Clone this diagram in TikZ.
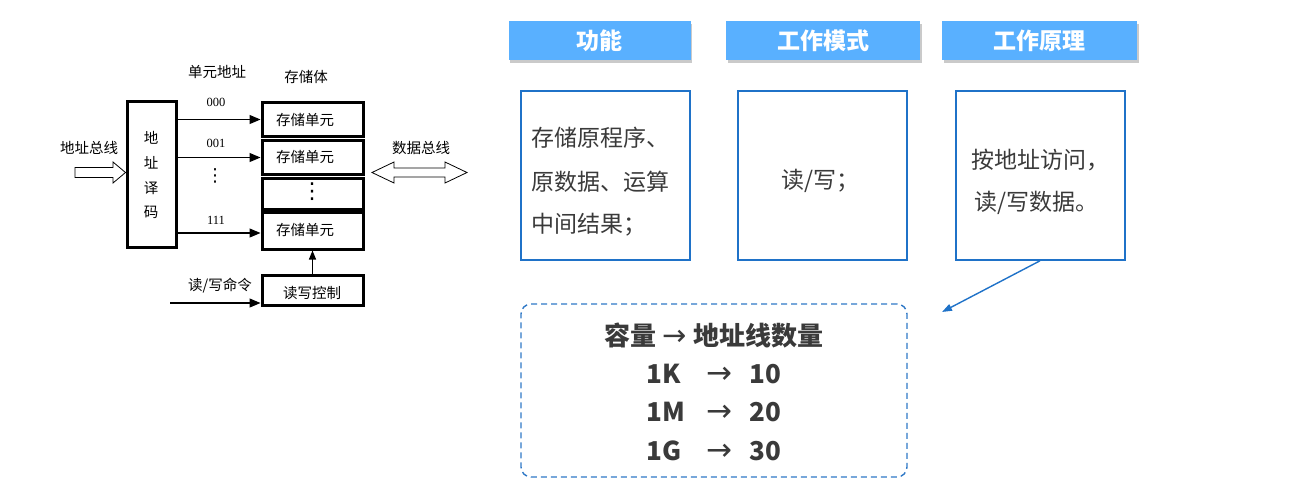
\documentclass[tikz,border=0pt]{standalone}
\usepackage{fontspec}
\setmainfont{Noto Sans CJK SC}
\newfontfamily\serifnum{Liberation Serif}
\newfontfamily\dejavu{DejaVu Sans}
\usetikzlibrary{arrows.meta,shadows}
\definecolor{hdrblue}{HTML}{59B0FF}
\definecolor{bordblue}{HTML}{1F72C8}
\definecolor{dashblue}{HTML}{2E78C6}
\definecolor{txtgray}{HTML}{3A3A3A}
\tikzset{
  thickbox/.style={draw=black, line width=3pt, inner sep=0pt},
  lbl/.style={font=\fontsize{14.5}{16}\selectfont, inner sep=0pt},
  dotlbl/.style={font=\dejavu\fontsize{18}{18}\selectfont, inner sep=0pt},
  numlbl/.style={font=\serifnum\fontsize{12.5}{14}\selectfont, inner sep=0pt},
  thinarrow/.style={line width=1.2pt, -{Triangle[length=11pt,width=9pt]}},
  hollow/.style={draw=black, line width=0.8pt, fill=white},
  header/.style={fill=hdrblue, draw=none, text=white, minimum width=182pt, minimum height=39pt, inner sep=0pt,
     font=\bfseries\fontsize{23}{26}\selectfont,
     drop shadow={shadow xshift=1.5pt, shadow yshift=-3pt, opacity=0.35, fill=black!60}},
  contentbox/.style={draw=bordblue, line width=1.6pt, minimum width=169pt, minimum height=169pt, inner sep=0pt},
  ctext/.style={text=txtgray, font=\fontsize{23}{44}\selectfont, inner sep=0pt},
  btext/.style={text=txtgray, font=\bfseries\fontsize{26}{28}\selectfont, inner sep=0pt},
  arrtext/.style={text=txtgray, font=\dejavu\fontsize{31}{31}\selectfont, inner sep=0pt},
}
\begin{document}
\begin{tikzpicture}[x=1pt,y=-1pt]
\useasboundingbox (0,0) rectangle (1309,483);
% ---------------- left diagram ----------------
\node[thickbox, minimum width=49pt, minimum height=146pt] (dec) at (151.5,174) {};
\node[lbl] (d1) at (151,138) {地};
\node[lbl] (d2) at (151,163) {址};
\node[lbl] (d3) at (151,188) {译};
\node[lbl] (d4) at (151,212) {码};

\node[thickbox, minimum width=101pt, minimum height=34pt] (c1) at (312.5,119.5) {};
\node[thickbox, minimum width=101pt, minimum height=34pt] (c2) at (312.5,157.5) {};
\node[thickbox, minimum width=101pt, minimum height=31pt] (c3) at (312.5,193.5) {};
\node[thickbox, minimum width=101pt, minimum height=37pt] (c4) at (312.5,230.5) {};
\node[lbl, anchor=west] (t1) at (276,120) {存储单元};
\node[lbl, anchor=west] (t2) at (276,157) {存储单元};
\node[lbl, anchor=west] (t4) at (276,230) {存储单元};
\node[dotlbl, font=\dejavu\fontsize{22}{22}\selectfont] (cdots) at (312,192) {⋮};

\node[thickbox, minimum width=101pt, minimum height=30pt] (rw) at (312.5,290) {};
\node[lbl] (rwt) at (312,293) {读写控制};

\node[lbl] (unitaddr) at (217,72) {单元地址};
\node[lbl] (storebody) at (306,77) {存储体};
\node[lbl] (addrbus) at (89,148) {地址总线};
\node[lbl] (databus) at (421,148) {数据总线};
\node[lbl] (rwcmd) at (220,286) {读/写命令};

\node[numlbl] (n0) at (216,102) {000};
\node[numlbl] (n1) at (216,143) {001};
\node[numlbl] (n7) at (216,220) {111};
\node[dotlbl] (ndots) at (215,176) {⋮};

\draw[thinarrow] (dec.east |- c1) -- (c1.west);
\draw[thinarrow] (dec.east |- c2) -- (c2.west);
\coordinate (a7) at (176,233);
\draw[thinarrow] (a7) -- (a7 -| c4.west);
\coordinate (cmdstart) at (170,303);
\draw[thinarrow] (cmdstart) -- (cmdstart -| rw.west);
\draw[line width=1.2pt, -{Triangle[length=9pt,width=7pt]}] (rw.north) -- (c4.south);

% hollow arrows
\draw[hollow] (75,167.5) -- (113,167.5) -- (113,162) -- (dec.west |- 0,172.5) -- (113,183) -- (113,177.5) -- (75,177.5) -- cycle;
\draw[hollow] (372,172.5) -- (394,162) -- (394,168) -- (445,168) -- (445,162) -- (467,172.5) -- (445,183) -- (445,177) -- (394,177) -- (394,183) -- cycle;

% ---------------- right side ----------------
\node[header] (h1) at (599.5,40.5) {功能};
\node[header, minimum width=194pt] (h2) at (823,40.5) {工作模式};
\node[header, minimum width=195pt] (h3) at (1039.5,40.5) {工作原理};

\node[contentbox] (b1) at (605.5,175.5) {};
\node[contentbox] (b2) at (822.5,175.5) {};
\node[contentbox] (b3) at (1040.5,175.5) {};

\node[ctext, anchor=west] (b1l1) at (531,138) {存储原程序、};
\node[ctext, anchor=west] (b1l2) at (531,182) {原数据、运算};
\node[ctext, anchor=west] (b1l3) at (531,225) {中间结果；};
\node[ctext] (b2t) at (820,181) {读/写；};
\node[ctext] (b3l1) at (1040,160) {按地址访问，};
\node[ctext] (b3l2) at (1036,203) {读/写数据。};

\node[draw=dashblue, dashed, dash pattern=on 6pt off 4pt, line width=1.4pt, rounded corners=10pt,
      minimum width=386pt, minimum height=173pt, inner sep=0pt] (cap) at (714,390.5) {};
\node[btext] (cap0) at (714,336) {容量 {\dejavu\mdseries\fontsize{29}{29}\selectfont →} 地址线数量};
\node[btext, anchor=west] (k1) at (646,374) {1K};
\node[btext, anchor=west] (m1) at (646,412) {1M};
\node[btext, anchor=west] (g1) at (646,451) {1G};
\node[arrtext] (ka) at (719,375) {→};
\node[arrtext] (ma) at (719,413) {→};
\node[arrtext] (ga) at (719,452) {→};
\node[btext, anchor=west] (k2) at (749,374) {10};
\node[btext, anchor=west] (m2) at (749,412) {20};
\node[btext, anchor=west] (g2) at (749,451) {30};

\coordinate (arrend) at (942,312);
\draw[draw=bordblue, line width=1.4pt, -{Triangle[length=10pt,width=7pt]}] (b3.south -| 1040,0) -- (arrend);
\end{tikzpicture}
\end{document}
